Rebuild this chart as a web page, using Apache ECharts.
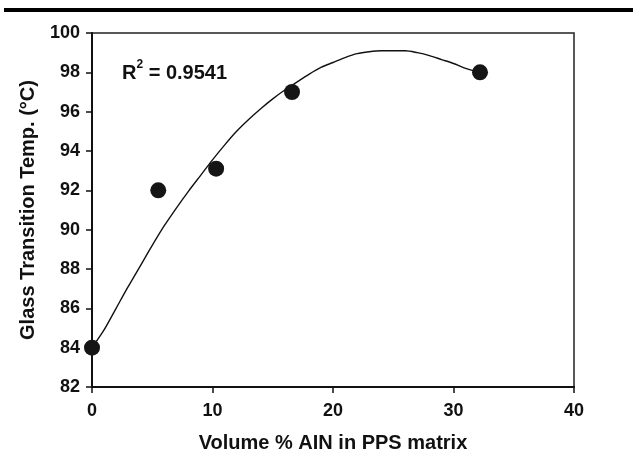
<!DOCTYPE html>
<html>
<head>
<meta charset="utf-8">
<script src="https://cdn.jsdelivr.net/npm/echarts@6/dist/echarts.min.js"></script>
<style>
  html, body { margin: 0; padding: 0; background: #fff; }
  #chart { width: 633px; height: 450px; }
</style>
</head>
<body>
<div id="chart"></div>
<script>
// measured points
var volumeX = [0, 5.5, 10.3, 16.6, 32.2]
var tgY = [84.0, 92.0, 93.1, 97.0, 98.0]

// fitted curve
var fitX = [0, 1, 2, 3, 4, 5, 6, 7, 8, 9, 10, 11, 12, 13, 14, 15, 16, 17, 18, 19, 20, 21, 22, 23, 24, 25, 26, 27, 28, 29, 30, 31, 32.2]
var fitY = [84.0, 84.9, 86.0, 87.1, 88.15, 89.2, 90.2, 91.1, 91.95, 92.75, 93.55, 94.3, 95.0, 95.6, 96.15, 96.65, 97.1, 97.5, 97.9, 98.25, 98.5, 98.75, 98.95, 99.05, 99.1, 99.1, 99.1, 99.0, 98.85, 98.65, 98.45, 98.2, 98.0]

var rSquared = '0.9541'

var font = 'Liberation Sans, Arial, sans-serif'

var myChart = echarts.init(document.getElementById('chart'))

var option = {
  animation: false,
  backgroundColor: '#fff',
  grid: {
    left: 92,
    right: 59,
    top: 33,
    bottom: 63,
    outerBoundsMode: 'none',
    show: true,
    borderColor: '#222',
    borderWidth: 1.5
  },
  xAxis: {
    type: 'value',
    min: 0,
    max: 40,
    interval: 10,
    name: 'Volume % AIN in PPS matrix',
    nameLocation: 'middle',
    nameGap: 46,
    nameTextStyle: { color: '#111', fontSize: 20, fontWeight: 'bold', fontFamily: font },
    axisLine: { show: true, onZero: false, lineStyle: { color: '#111', width: 2 } },
    axisTick: { show: true, inside: false, length: 6, lineStyle: { color: '#111', width: 1.5 } },
    axisLabel: { color: '#111', fontSize: 18, fontWeight: 'bold', fontFamily: font, margin: 15 },
    splitLine: { show: false }
  },
  yAxis: {
    type: 'value',
    min: 82,
    max: 100,
    interval: 2,
    name: 'Glass Transition Temp. (°C)',
    nameLocation: 'middle',
    nameGap: 54,
    nameTextStyle: { color: '#111', fontSize: 20, fontWeight: 'bold', fontFamily: font },
    axisLine: { show: true, onZero: false, lineStyle: { color: '#111', width: 2 } },
    axisTick: { show: true, inside: false, length: 6, lineStyle: { color: '#111', width: 1.5 } },
    axisLabel: { color: '#111', fontSize: 18, fontWeight: 'bold', fontFamily: font, margin: 12 },
    splitLine: { show: false }
  },
  graphic: [
    {
      type: 'rect',
      shape: { x: 4, y: 8, width: 629, height: 4 },
      style: { fill: '#000' }
    },
    {
      type: 'text',
      left: 122,
      top: 59,
      style: {
        text: '{a|R}{sup|2}{a| = ' + rSquared + '}',
        rich: {
          a: { fontSize: 20, fontWeight: 'bold', fontFamily: font, fill: '#111', lineHeight: 24, verticalAlign: 'bottom' },
          sup: { fontSize: 12, fontWeight: 'bold', fontFamily: font, fill: '#111', lineHeight: 24, verticalAlign: 'top' }
        }
      }
    }
  ],
  series: [
    {
      type: 'line',
      data: fitX.map(function (x, i) { return [x, fitY[i]] }),
      showSymbol: false,
      symbol: 'none',
      smooth: 0.3,
      lineStyle: { color: '#111', width: 1.4 },
      silent: true,
      z: 2
    },
    {
      type: 'scatter',
      data: volumeX.map(function (x, i) { return [x, tgY[i]] }),
      symbol: 'circle',
      symbolSize: 16,
      itemStyle: { color: '#151515', opacity: 1 },
      clip: false,
      z: 3
    }
  ]
}

myChart.setOption(option)
</script>
</body>
</html>
